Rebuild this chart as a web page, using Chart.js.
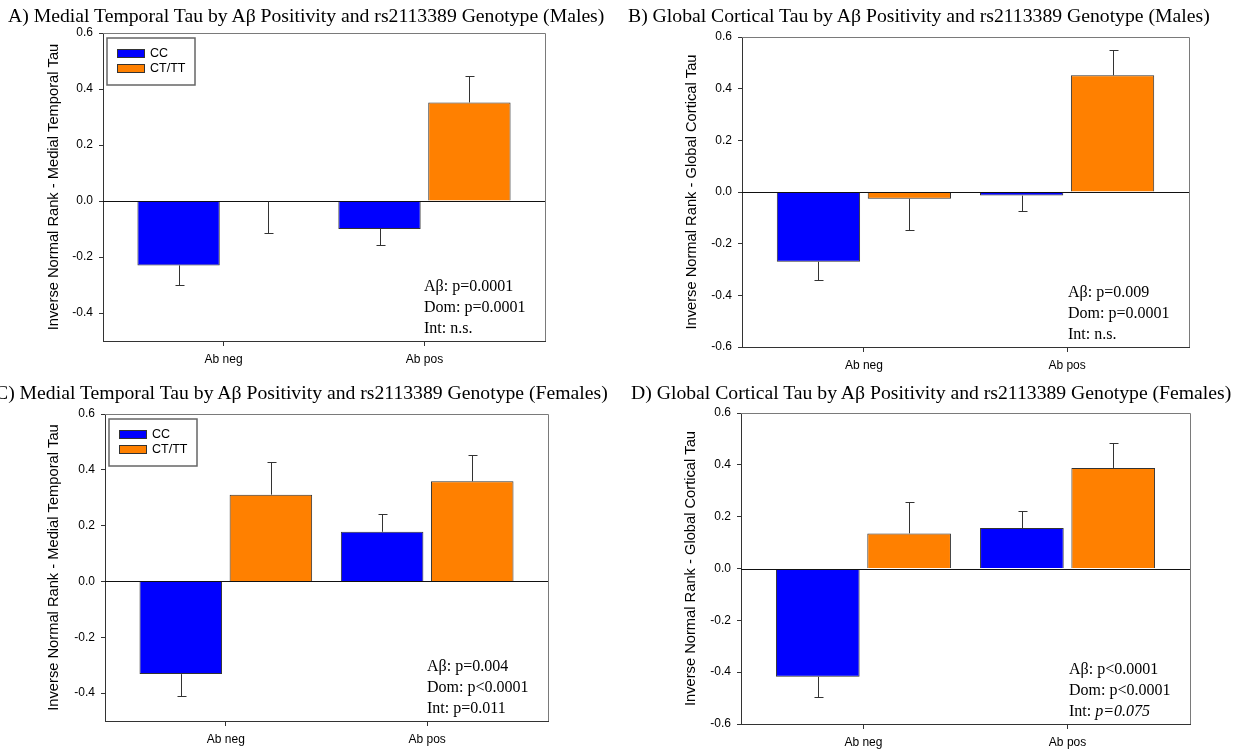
<!DOCTYPE html>
<html>
<head>
<meta charset="utf-8">
<title>Tau by Aβ Positivity and rs2113389 Genotype</title>
<script src="https://cdn.jsdelivr.net/npm/chart.js"></script>
<style>
  body { margin: 0; background: #fff; width: 1242px; height: 750px; position: relative; overflow: hidden; }
  .panel { position: absolute; width: 621px; height: 375px; }
  .ttl { position: absolute; font-family: 'Liberation Serif', 'Times New Roman', serif; font-size: 19.7px; line-height: 1; white-space: nowrap; color: #000; z-index: 2; }
</style>
</head>
<body>
<div class="ttl" style="left:8px; top:6px;">A) Medial Temporal Tau by Aβ Positivity and rs2113389 Genotype (Males)</div>
<div class="ttl" style="left:628px; top:6px;">B) Global Cortical Tau by Aβ Positivity and rs2113389 Genotype (Males)</div>
<div class="ttl" style="left:-5px; top:383px;">C) Medial Temporal Tau by Aβ Positivity and rs2113389 Genotype (Females)</div>
<div class="ttl" style="left:631px; top:383px;">D) Global Cortical Tau by Aβ Positivity and rs2113389 Genotype (Females)</div>

<div class="panel" style="left:0; top:0;"><canvas id="chartA" width="621" height="375"></canvas></div>
<div class="panel" style="left:621px; top:0;"><canvas id="chartB" width="621" height="375"></canvas></div>
<div class="panel" style="left:0; top:375px;"><canvas id="chartC" width="621" height="375"></canvas></div>
<div class="panel" style="left:621px; top:375px;"><canvas id="chartD" width="621" height="375"></canvas></div>

<script>
// categories and genotype groups
const categories = ['Ab neg', 'Ab pos'];
const genotypes = ['CC', 'CT/TT'];

// A) medial temporal tau, males (means and standard errors)
const mtMaleCC = [-0.23, -0.10];
const mtMaleCT = [-0.002, 0.352];
const mtMaleCCse = [0.07, 0.057];
const mtMaleCTse = [0.113, 0.095];

// B) global cortical tau, males
const gcMaleCC = [-0.27, -0.014];
const gcMaleCT = [-0.026, 0.452];
const gcMaleCCse = [0.072, 0.061];
const gcMaleCTse = [0.12, 0.099];

// C) medial temporal tau, females
const mtFemaleCC = [-0.332, 0.178];
const mtFemaleCT = [0.311, 0.359];
const mtFemaleCCse = [0.077, 0.064];
const mtFemaleCTse = [0.118, 0.094];

// D) global cortical tau, females
const gcFemaleCC = [-0.418, 0.156];
const gcFemaleCT = [0.1355, 0.388];
const gcFemaleCCse = [0.079, 0.065];
const gcFemaleCTse = [0.121, 0.096];

// y tick labels
const ticksMT = [-0.4, -0.2, 0.0, 0.2, 0.4, 0.6];
const ticksGC = [-0.6, -0.4, -0.2, 0.0, 0.2, 0.4, 0.6];

// stats text, each line a list of [text, italic]
const statsA = [[['Aβ: p=0.0001', false]], [['Dom: p=0.0001', false]], [['Int: n.s.', false]]];
const statsB = [[['Aβ: p=0.009', false]], [['Dom: p=0.0001', false]], [['Int: n.s.', false]]];
const statsC = [[['Aβ: p=0.004', false]], [['Dom: p<0.0001', false]], [['Int: p=0.011', false]]];
const statsD = [[['Aβ: p<0.0001', false]], [['Dom: p<0.0001', false]], [['Int: ', false], ['p=0.075', true]]];

const colors = ['#0000FF', '#FF8000'];
const sans = "'Liberation Sans', Arial, sans-serif";
const serif = "'Liberation Serif', 'Times New Roman', serif";

const panelExtras = {
  id: 'panelExtras',
  afterDatasetsDraw(chart, args, opts) {
    const { ctx, chartArea: a, scales: { y } } = chart;
    ctx.save();
    // top and right frame
    ctx.strokeStyle = '#7a7a7a';
    ctx.lineWidth = 1;
    ctx.beginPath();
    ctx.moveTo(a.left, a.top + 0.5);
    ctx.lineTo(a.right + 0.5, a.top + 0.5);
    ctx.lineTo(a.right + 0.5, a.bottom);
    ctx.stroke();
    // zero line
    const y0 = Math.round(y.getPixelForValue(0)) + 0.5;
    ctx.strokeStyle = '#111';
    ctx.beginPath();
    ctx.moveTo(a.left, y0);
    ctx.lineTo(a.right, y0);
    ctx.stroke();
    // error bars
    ctx.strokeStyle = '#333';
    chart.data.datasets.forEach((ds, di) => {
      const meta = chart.getDatasetMeta(di);
      meta.data.forEach((bar, i) => {
        const v = ds.data[i].y;
        const e = ds.errors[i];
        const tip = v > 0 ? v + e : v - e;
        const x = Math.round(bar.x) + 0.5;
        const py = y.getPixelForValue(v);
        const pt = Math.round(y.getPixelForValue(tip)) + 0.5;
        ctx.beginPath();
        ctx.moveTo(x, py);
        ctx.lineTo(x, pt);
        ctx.moveTo(x - 4, pt);
        ctx.lineTo(x + 5, pt);
        ctx.stroke();
      });
    });
    // legend box
    if (opts.legend) {
      const bx = a.left + 4, by = a.top + 5;
      ctx.strokeStyle = '#666';
      ctx.lineWidth = 1.5;
      ctx.strokeRect(bx, by, 88, 47);
      ctx.font = '12.5px ' + sans;
      ctx.textBaseline = 'middle';
      chart.data.datasets.forEach((ds, di) => {
        const sy = by + 11 + di * 15;
        ctx.fillStyle = ds.backgroundColor;
        ctx.fillRect(bx + 10, sy, 28, 9);
        ctx.strokeStyle = '#333';
        ctx.lineWidth = 1;
        ctx.strokeRect(bx + 10.5, sy + 0.5, 27, 8);
        ctx.fillStyle = '#000';
        ctx.fillText(ds.label, bx + 43, sy + 5);
      });
    }
    // stats text
    ctx.textBaseline = 'middle';
    ctx.fillStyle = '#000';
    opts.stats.forEach((line, li) => {
      let x = a.right - 121;
      const ty = a.bottom - 54 + li * 21;
      line.forEach(([txt, it]) => {
        ctx.font = (it ? 'italic ' : '') + '16px ' + serif;
        ctx.fillText(txt, x, ty);
        x += ctx.measureText(txt).width;
      });
    });
    ctx.restore();
  }
};

function makePanel(id, cfg) {
  const toPoints = vals => vals.map((v, i) => ({ x: i, y: v }));
  new Chart(document.getElementById(id), {
    type: 'bar',
    data: {
      datasets: [
        { label: genotypes[0], data: toPoints(cfg.cc), errors: cfg.ccSe, backgroundColor: colors[0], borderColor: '#333', borderWidth: 1 },
        { label: genotypes[1], data: toPoints(cfg.ct), errors: cfg.ctSe, backgroundColor: colors[1], borderColor: '#333', borderWidth: 1 }
      ]
    },
    options: {
      responsive: false,
      animation: false,
      devicePixelRatio: 1,
      categoryPercentage: 0.895,
      barPercentage: 0.916,
      layout: { padding: { top: cfg.top, right: cfg.right, left: 0, bottom: 0 } },
      plugins: {
        legend: { display: false },
        tooltip: { enabled: false },
        panelExtras: { legend: cfg.legend, stats: cfg.stats }
      },
      scales: {
        x: {
          type: 'linear',
          offset: false,
          min: -0.6,
          max: 1.6,
          afterBuildTicks: s => { s.ticks = categories.map((c, i) => ({ value: i })); },
          afterFit: s => { s.height = cfg.xh; },
          ticks: { callback: v => categories[v], font: { family: sans, size: 12 }, color: '#000', padding: 6, maxRotation: 0, autoSkip: false },
          grid: { offset: false, drawOnChartArea: false, tickLength: 5, color: '#333' },
          border: { color: '#333', width: 1 }
        },
        y: {
          min: cfg.ymin,
          max: 0.6,
          afterBuildTicks: s => { s.ticks = cfg.ticks.map(v => ({ value: v })); },
          afterFit: s => { s.width = cfg.left; },
          ticks: { callback: v => v.toFixed(1), font: { family: sans, size: 12 }, color: '#000', padding: 6 },
          grid: { drawOnChartArea: false, tickLength: 4, color: '#333' },
          border: { color: '#333', width: 1 },
          title: {
            display: true,
            text: cfg.ytitle,
            font: { family: sans, size: 14.7, lineHeight: 1.2 },
            color: '#000',
            padding: { top: cfg.titleX - 8.8, bottom: 0 }
          }
        }
      }
    },
    plugins: [panelExtras]
  });
}

makePanel('chartA', { cc: mtMaleCC, ct: mtMaleCT, ccSe: mtMaleCCse, ctSe: mtMaleCTse, ymin: -0.5, ticks: ticksMT,
  ytitle: 'Inverse Normal Rank - Medial Temporal Tau', stats: statsA, legend: true,
  left: 103, top: 33, right: 76, xh: 34, titleX: 54 });
makePanel('chartB', { cc: gcMaleCC, ct: gcMaleCT, ccSe: gcMaleCCse, ctSe: gcMaleCTse, ymin: -0.6, ticks: ticksGC,
  ytitle: 'Inverse Normal Rank - Global Cortical Tau', stats: statsB, legend: false,
  left: 121, top: 37, right: 53, xh: 28, titleX: 71 });
makePanel('chartC', { cc: mtFemaleCC, ct: mtFemaleCT, ccSe: mtFemaleCCse, ctSe: mtFemaleCTse, ymin: -0.5, ticks: ticksMT,
  ytitle: 'Inverse Normal Rank - Medial Temporal Tau', stats: statsC, legend: true,
  left: 105, top: 39, right: 73, xh: 29, titleX: 54 });
makePanel('chartD', { cc: gcFemaleCC, ct: gcFemaleCT, ccSe: gcFemaleCCse, ctSe: gcFemaleCTse, ymin: -0.6, ticks: ticksGC,
  ytitle: 'Inverse Normal Rank - Global Cortical Tau', stats: statsD, legend: false,
  left: 120, top: 38, right: 52, xh: 26, titleX: 70 });
</script>
</body>
</html>
